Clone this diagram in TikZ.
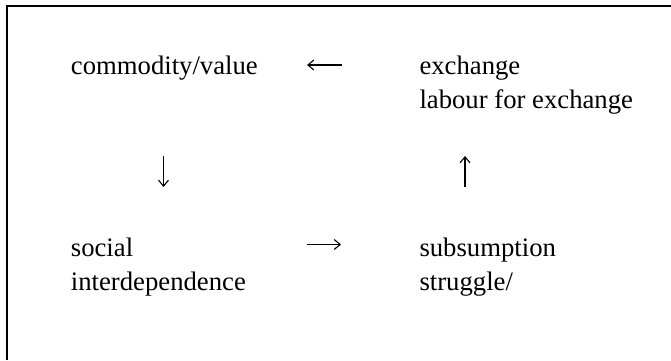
\documentclass[tikz,border=0pt]{standalone}
\usepackage{fontspec}
\setmainfont{Liberation Serif}
\usetikzlibrary{arrows.meta}
\begin{document}
\begin{tikzpicture}[x=1bp,y=1bp,
  lbl/.style={anchor=base west,inner sep=0pt,align=left,font={\fontsize{26.7bp}{34.3bp}\selectfont}},
  conn/.style={line width=1.1bp,-{Straight Barb[length=6bp,width=10bp,line width=1.1bp]}},
  frame/.style={line width=2.2bp}]
\useasboundingbox (0,0) rectangle (671,360);
\coordinate (fa) at (7,0);
\coordinate (fb) at (7,354);
\coordinate (fc) at (671,354);
\draw[frame] (fa) -- (fb) -- (fc);
\node[lbl] (cv) at (70.7,286) {commodity/value};
\node[lbl] (ex) at (419.3,251.7) {exchange\\labour for exchange};
\node[lbl] (si) at (70.7,69.7) {social\\interdependence};
\node[lbl] (su) at (419.3,69.7) {subsumption\\struggle/};
\coordinate (a1s) at (342,295);
\coordinate (a1e) at (307,295);
\coordinate (a2s) at (307,115.5);
\coordinate (a2e) at (341,115.5);
\coordinate (a3s) at (163.5,204);
\coordinate (a3e) at (163.5,173);
\coordinate (a4s) at (465,173);
\coordinate (a4e) at (465,204);
\draw[conn] (a1s) -- (a1e);
\draw[conn] (a2s) -- (a2e);
\draw[conn] (a3s) -- (a3e);
\draw[conn] (a4s) -- (a4e);
\end{tikzpicture}
\end{document}
